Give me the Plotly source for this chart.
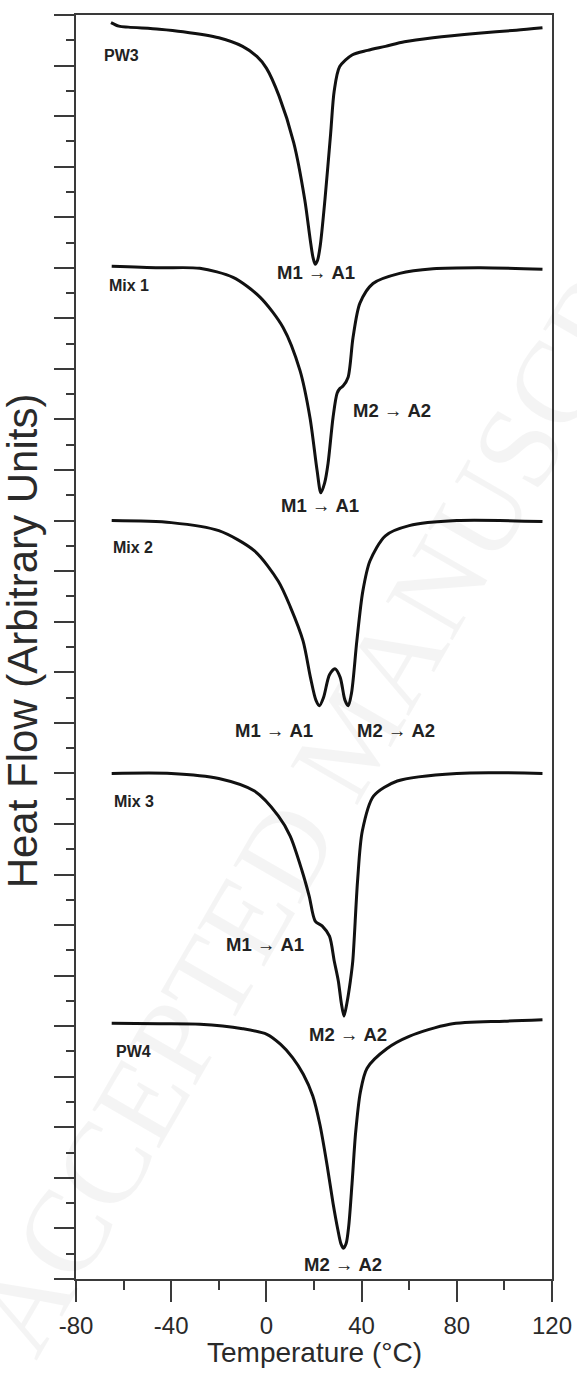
import plotly.graph_objects as go

# DSC heating curves (temperature in °C, heat flow in stacked arbitrary units)
pw3_t = [-65.3, -62, -58, -45, -35, -20, -10, -4, 0, 5.3, 11.5, 16.1, 18.4, 19.6, 20.5,
         21.5, 22.6, 24.6, 27, 28.5, 30.8, 36, 42.5, 50, 58, 70, 89, 105, 116]
pw3_hf = [24.85, 24.78, 24.76, 24.72, 24.67, 24.55, 24.38, 24.18, 23.95, 23.4, 22.47, 21.35,
          20.56, 20.2, 20.07, 20.15, 20.43, 21.35, 22.66, 23.5, 23.98, 24.21, 24.3, 24.38,
          24.47, 24.55, 24.64, 24.7, 24.75]

mix1_t = [-65, -45, -28, -14, -2.7, 7, 14.1, 18.3, 21.3, 22.9, 24.5, 25.9, 28, 29.7, 31,
          32.2, 34.3, 36.4, 39.3, 44.8, 56, 70, 90, 116]
mix1_hf = [20.03, 20.0, 19.99, 19.81, 19.42, 18.82, 17.97, 17.04, 15.99, 15.55, 15.75, 16.13,
           17.04, 17.52, 17.62, 17.66, 17.83, 18.62, 19.30, 19.69, 19.89, 19.98, 20.0, 19.97]

mix2_t = [-65, -40, -20, -5, 5, 10, 15.4, 18.5, 20.8, 22.3, 24, 26.5, 28.8, 31, 33, 34.4,
          35.8, 38, 40.5, 43.5, 50, 60, 80, 116]
mix2_hf = [15.0, 14.96, 14.8, 14.4, 13.8, 13.3, 12.62, 11.9, 11.45, 11.34, 11.5, 11.95, 12.07,
           11.9, 11.45, 11.34, 11.6, 12.62, 13.6, 14.2, 14.7, 14.9, 15.0, 14.98]

mix3_t = [-65, -40, -20, -5, 5, 10, 15, 18, 20.5, 23.5, 26.5, 28.5, 30.2, 31.5, 32.6, 33.8,
          35.3, 36.3, 38.3, 40.3, 45, 55, 80, 116]
mix3_hf = [10.0, 10.0, 9.9, 9.65, 9.16, 8.76, 8.07, 7.57, 7.08, 6.98, 6.78, 6.29, 5.9, 5.45,
           5.2, 5.45, 5.9, 6.29, 7.87, 8.86, 9.55, 9.85, 10.0, 10.0]

pw4_t = [-65, -45, -27.9, -10, 0.2, 6, 11, 15.5, 19.5, 22.5, 25.5, 28, 30, 31.3, 32.4, 33.5,
         34.6, 36, 37.5, 39.5, 42.3, 50.7, 60, 77, 100, 116]
pw4_hf = [5.06, 5.05, 5.04, 4.95, 4.84, 4.64, 4.38, 4.05, 3.62, 3.05, 2.25, 1.5, 0.98, 0.7,
          0.61, 0.7, 1.05, 1.9, 2.9, 3.7, 4.17, 4.56, 4.8, 5.04, 5.1, 5.13]

series = [
    ("PW3", pw3_t, pw3_hf),
    ("Mix 1", mix1_t, mix1_hf),
    ("Mix 2", mix2_t, mix2_hf),
    ("Mix 3", mix3_t, mix3_hf),
    ("PW4", pw4_t, pw4_hf),
]

# sample names: (text, temperature, heat flow)
sample_labels = [
    ("PW3", -61, 24.2),
    ("Mix 1", -57.7, 19.65),
    ("Mix 2", -56, 14.47),
    ("Mix 3", -55.6, 9.45),
    ("PW4", -56, 4.5),
]

# transformation labels: (start phase, end phase, temperature, heat flow)
transition_labels = [
    ("M1", "A1", 20.8, 19.9),
    ("M2", "A2", 52.8, 17.18),
    ("M1", "A1", 22.5, 15.3),
    ("M1", "A1", 3.4, 10.85),
    ("M2", "A2", 54.5, 10.85),
    ("M1", "A1", -0.4, 6.62),
    ("M2", "A2", 34.3, 4.84),
    ("M2", "A2", 32.2, 0.29),
]

x_ticks = [-80, -40, 0, 40, 80, 120]

FONT = "Liberation Sans, Arial, sans-serif"
TEXT = "#222222"
AXIS = "#3a3a3a"

fig = go.Figure()
for name, t, hf in series:
    fig.add_trace(go.Scatter(
        x=t, y=hf, mode="lines", name=name,
        line=dict(color="#111111", width=3, shape="spline", smoothing=0.8),
        showlegend=False, hoverinfo="skip",
    ))

# faint diagonal watermark behind the curves
fig.add_annotation(
    xref="paper", yref="paper", x=0.58, y=0.43,
    text="ACCEPTED MANUSCRIPT", showarrow=False, textangle=-60,
    font=dict(family="Liberation Serif, serif", size=118, color="rgba(0,0,0,0.045)"),
)

for text, t, hf in sample_labels:
    fig.add_annotation(x=t, y=hf, text=f"<b>{text}</b>", showarrow=False,
                       font=dict(family=FONT, size=16, color=TEXT))

for start, end, t, hf in transition_labels:
    fig.add_annotation(x=t, y=hf, text=f"<b>{start}\u00a0\u2192\u00a0{end}</b>",
                       showarrow=False, font=dict(family=FONT, size=18.5, color=TEXT))

fig.update_xaxes(
    range=[-80, 120], tickvals=x_ticks, ticktext=[str(v) for v in x_ticks],
    ticks="outside", ticklen=21, tickwidth=2, tickcolor=AXIS, ticklabelstandoff=3,
    minor=dict(dtick=20, ticks="outside", ticklen=9, tickwidth=2, tickcolor=AXIS),
    showline=True, linewidth=2, linecolor=AXIS, mirror=True,
    showgrid=False, zeroline=False, automargin=False,
    tickfont=dict(family=FONT, size=24, color="#2a2a2a"),
)
fig.update_yaxes(
    range=[0, 25], dtick=1, tick0=0,
    ticks="outside", ticklen=20, tickwidth=2, tickcolor=AXIS,
    minor=dict(dtick=0.5, ticks="outside", ticklen=8, tickwidth=2, tickcolor=AXIS),
    showticklabels=False,
    showline=True, linewidth=2, linecolor=AXIS, mirror=True,
    showgrid=False, zeroline=False, automargin=False,
)

# axis titles
fig.add_annotation(xref="paper", yref="paper", x=0.5, y=-0.0585, yanchor="middle",
                   text="Temperature (\u00b0C)", showarrow=False,
                   font=dict(family=FONT, size=28, color="#2a2a2a"))
fig.add_annotation(xref="paper", yref="paper", x=-0.112, y=0.505, xanchor="center",
                   text="Heat Flow (Arbitrary Units)", showarrow=False, textangle=-90,
                   font=dict(family=FONT, size=42, color="#2a2a2a"))

fig.update_layout(
    width=577, height=1373,
    margin=dict(l=76, r=25, t=15, b=94),
    paper_bgcolor="white", plot_bgcolor="white",
)

fig.write_html("out.html")
